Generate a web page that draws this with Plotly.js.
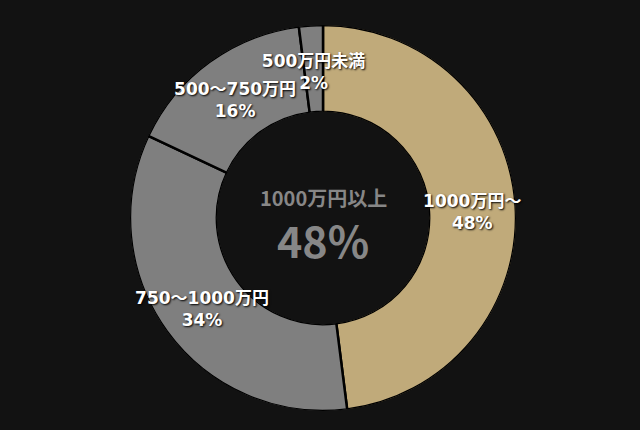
<!DOCTYPE html>
<html>
<head>
<meta charset="utf-8">
<script src="https://cdn.plot.ly/plotly-3.0.1.min.js"></script>
<style>
  html, body { margin:0; padding:0; background:#121212; }
  #chart { width:640px; height:430px; }
</style>
</head>
<body>
<div id="chart"></div>
<script>
// income brackets, clockwise from 12 o'clock
const labels = ['1000万円～', '750～1000万円', '500～750万円', '500万円未満'];
const values = [48, 34, 16, 2];
const colors = ['#c0aa7a', '#7f7f7f', '#7f7f7f', '#7f7f7f'];
const centerLabel = '1000万円以上';
const centerValue = '48%';

(function(){
  const font = '"Noto Sans CJK JP", "Noto Sans", sans-serif';
  const labelFont = '"DejaVu Sans", "Noto Sans CJK JP", sans-serif';
  const total = values.reduce((a, b) => a + b, 0);
  // slice widths and mid-angles in degrees; the polar axis places them
  let acc = 0;
  const widths = values.map(v => v / total * 360);
  const mids = values.map(v => { const m = (acc + v / 2) / total * 360; acc += v; return m; });
  const dom = { x: [130/640, 516/640], y: [19/430, 405/430] };
  // label layer nudged down a few px so two-line blocks centre on the ring
  const domText = { x: dom.x, y: [14/430, 400/430] };
  const axisOff = {
    bgcolor: 'rgba(0,0,0,0)', hole: 0.55, bargap: 0,
    radialaxis: { range: [0, 1], visible: false, showgrid: false },
    angularaxis: { visible: false, showgrid: false, rotation: 90, direction: 'clockwise', thetaunit: 'degrees' }
  };

  const ring = {
    type: 'barpolar', r: values.map(() => 1), theta: mids, width: widths,
    marker: { color: colors, line: { color: '#000', width: 2.5 } },
    hoverinfo: 'skip', showlegend: false
  };
  const text = {
    type: 'scatterpolar', mode: 'text', subplot: 'polar2',
    r: values.map(() => 0.5), theta: mids,
    text: labels.map((l, i) => l + '<br>' + values[i] + '%'),
    textposition: 'middle center',
    textfont: { family: labelFont, size: 17, color: '#ffffff', weight: 'bold', shadow: '1px 1px 2px #000' },
    hoverinfo: 'skip', showlegend: false, cliponaxis: false
  };
  const layout = {
    width: 640, height: 430, margin: { l:0, r:0, t:0, b:0 },
    paper_bgcolor: '#121212', plot_bgcolor: '#121212',
    polar: Object.assign({ domain: dom }, axisOff),
    polar2: Object.assign({ domain: domText }, axisOff),
    annotations: [
      { x: 323/640, y: 1 - 197/430, xref: 'paper', yref: 'paper', text: '<b>' + centerLabel + '</b>', showarrow: false,
        font: { family: font, size: 20, color: '#878787' } },
      { x: 323/640, y: 1 - 239/430, xref: 'paper', yref: 'paper', text: '<b>' + centerValue + '</b>', showarrow: false,
        font: { family: font, size: 43, color: '#878787' } }
    ]
  };
  Plotly.newPlot('chart', [ring, text], layout, { displayModeBar: false, staticPlot: true });
})();
</script>
</body>
</html>
